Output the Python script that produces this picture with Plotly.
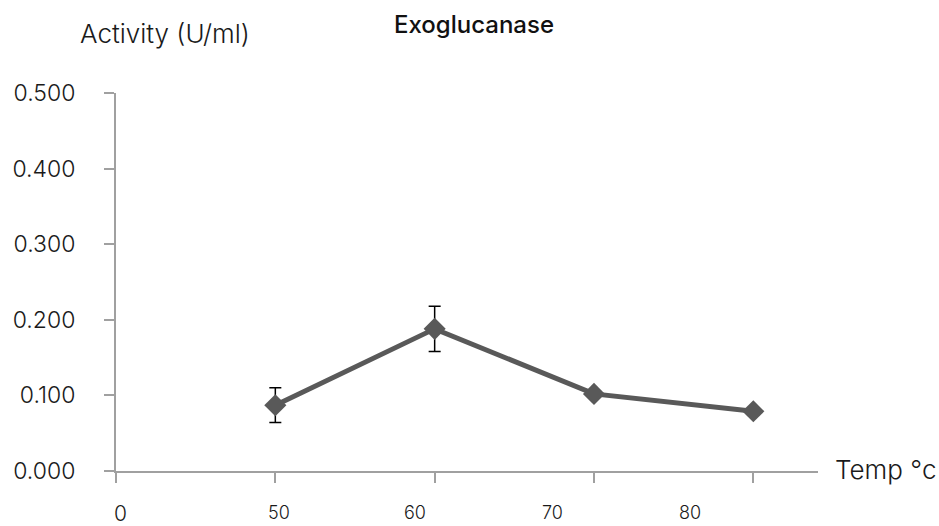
import plotly.graph_objects as go

# ---- data ----
temps = ["50", "60", "70", "80"]
activity = [0.087, 0.188, 0.102, 0.079]
error = [0.023, 0.030, 0.0, 0.0]
y_ticks = [0.0, 0.1, 0.2, 0.3, 0.4, 0.5]
x_axis_labels = ["0", "50", "60", "70", "80"]

# ---- layout helpers (positions only) ----
cat_pos = [1, 2, 3, 4]                       # category positions on the axis
label_pos = [0.03, 1.02, 1.875, 2.74, 3.6]    # where the reference draws x labels

W, H = 939, 526
L, R, T, B = 113, 121, 93, 55
fig = go.Figure()

fig.add_trace(go.Scatter(
    x=cat_pos, y=activity,
    mode="lines+markers",
    line=dict(color="#595959", width=5),
    marker=dict(symbol="diamond", size=17, color="#595959"),
    error_y=dict(type="data", array=error, visible=True,
                 color="black", thickness=1.5, width=6),
    showlegend=False,
    cliponaxis=False,
))

font_main = "Inter, sans-serif"
txt_col = "#1a1a1a"

fig.update_layout(
    width=W, height=H,
    margin=dict(l=L, r=R, t=T, b=B),
    paper_bgcolor="white", plot_bgcolor="white",
    font=dict(family=font_main, color=txt_col, weight=300),
    xaxis=dict(
        range=[0, 4.406],
        tickvals=[0] + cat_pos,
        ticktext=[""] * 5,
        ticks="outside", ticklen=10, tickcolor="#a0a0a0", tickwidth=2,
        showline=True, linecolor="#a0a0a0", linewidth=2,
        showgrid=False, zeroline=False,
    ),
    yaxis=dict(
        range=[0, 0.5],
        tickvals=y_ticks,
        tickformat=".3f",
        ticks="outside", ticklen=10, tickcolor="#a0a0a0", tickwidth=2,
        showline=True, linecolor="#a0a0a0", linewidth=2,
        showgrid=False, zeroline=False,
        tickfont=dict(size=23, color=txt_col, family=font_main, weight=300),
        ticklabelstandoff=24,
    ),
)

# x tick labels, placed where the reference shows them
for i, txt in enumerate(x_axis_labels):
    fig.add_annotation(
        x=label_pos[i], xref="x", y=0, yref="y",
        yshift=-42 if txt == "0" else -41, text=txt, showarrow=False,
        font=dict(size=21 if txt == "0" else 18, color=txt_col,
                  family=font_main, weight=300),
        xanchor="center", yanchor="middle",
    )

def paper_xy(px, py):
    return (px - L) / (W - L - R), 1 - (py - T) / (H - T - B)

x0, y0 = paper_xy(162, 33)
fig.add_annotation(x=x0, xref="paper", y=y0, yref="paper",
                   text="Activity (U/ml)", showarrow=False, xanchor="center",
                   yanchor="middle",
                   font=dict(size=26, color=txt_col, family=font_main, weight=300))
x0, y0 = paper_xy(473, 24)
fig.add_annotation(x=x0, xref="paper", y=y0, yref="paper",
                   text="Exoglucanase", showarrow=False, xanchor="center",
                   yanchor="middle",
                   font=dict(size=24, color="#111111", family=font_main, weight=500))
x0, y0 = paper_xy(886, 469)
fig.add_annotation(x=x0, xref="paper", y=y0, yref="paper",
                   text="Temp °c", showarrow=False, xanchor="center",
                   yanchor="middle",
                   font=dict(size=26, color=txt_col, family=font_main, weight=300))

fig.write_html("out.html")
